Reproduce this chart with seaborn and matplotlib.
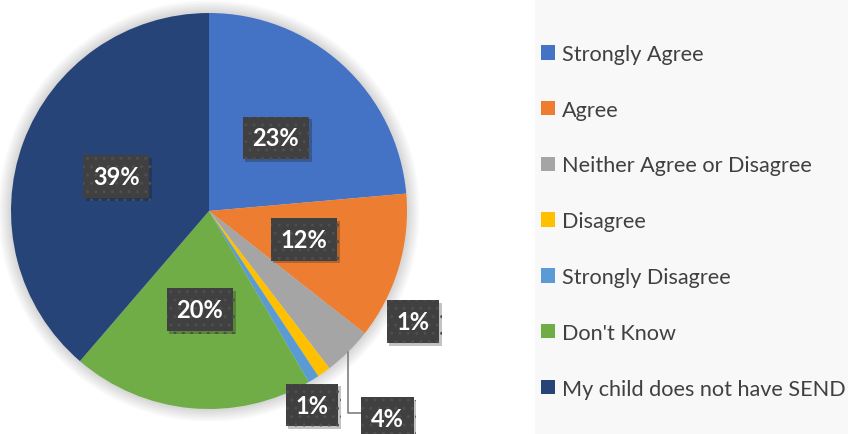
import matplotlib
matplotlib.use("Agg")
import matplotlib.pyplot as plt
import matplotlib.patheffects as pe
from matplotlib.patches import Rectangle, Circle
import numpy as np
import seaborn as sns

# survey answers
categories = ["Strongly Agree", "Agree", "Neither Agree or Disagree", "Disagree",
              "Strongly Disagree", "Don't Know", "My child does not have SEND"]
shares = [23.6, 12.0, 4.0, 1.1, 0.9, 19.7, 38.7]
pct_labels = ["23%", "12%", "4%", "1%", "1%", "20%", "39%"]
colors = ["#4472C4", "#ED7D31", "#A5A5A5", "#FFC000", "#5B9BD5", "#70AD47", "#264478"]

sns.set_theme(style="white")
plt.rcParams['font.family'] = ['Lato', 'DejaVu Sans']

fig = plt.figure(figsize=(8.48, 4.35), dpi=100)
fig.patch.set_facecolor("white")

# light grey panel behind the legend
fig.patches.append(Rectangle((535 / 848, 0), 1, 1, transform=fig.transFigure,
                             facecolor="#f8f8f8", edgecolor="none", zorder=-10))

ax = fig.add_axes([11 / 848, 25 / 435, 396 / 848, 396 / 435])

# soft glow around the pie
for i in range(8):
    ax.add_patch(Circle((0, 0), 1 + 0.008 * (i + 1), facecolor="black", edgecolor="none",
                        alpha=0.018, zorder=0, clip_on=False))

wedges, _ = ax.pie(shares, colors=colors, startangle=90, counterclock=False,
                   radius=1, wedgeprops=dict(linewidth=0, zorder=1))
ax.set_xlim(-1, 1)
ax.set_ylim(-1, 1)
ax.set_aspect("equal")
ax.axis("off")

box = dict(boxstyle="square,pad=0.42", facecolor="#404040", edgecolor="#4e4e4e",
           linewidth=0, hatch="..")
lab_kw = dict(color="white", fontsize=17, fontweight="bold", ha="center", va="center",
              bbox=box, zorder=5)

texts = []
# labels inside the big slices
for i in [0, 1, 5, 6]:
    w = wedges[i]
    mid = np.deg2rad((w.theta1 + w.theta2) / 2)
    texts.append(ax.text(0.5 * np.cos(mid), 0.5 * np.sin(mid), pct_labels[i], **lab_kw))

# small slices pushed outside
texts.append(ax.text(1.03, -0.56, pct_labels[3], **lab_kw))
texts.append(ax.text(0.52, -0.98, pct_labels[4], **lab_kw))

w = wedges[2]
mid = np.deg2rad((w.theta1 + w.theta2) / 2)
texts.append(ax.annotate(pct_labels[2], xy=(np.cos(mid), np.sin(mid)), xytext=(0.90, -1.05),
                         arrowprops=dict(arrowstyle="-", color="#7f7f7f", lw=1.2,
                                         connectionstyle="angle,angleA=0,angleB=90,rad=0",
                                         relpos=(0, 0.75), shrinkA=0, shrinkB=0),
                         annotation_clip=False, **lab_kw))

fig.canvas.draw()
for t in texts:
    p = t.get_bbox_patch()
    p.set_path_effects([pe.SimplePatchShadow(offset=(2, -2), alpha=0.25), pe.Normal()])

fig.legend(wedges, categories, loc="upper left", bbox_to_anchor=(541 / 848, 1 - 45 / 435),
           frameon=False, fontsize=15.6, handlelength=0.65, handleheight=0.65,
           handletextpad=0.3, labelspacing=1.65, borderaxespad=0, borderpad=0,
           labelcolor="#404040")

plt.savefig("out.png", dpi=100)
